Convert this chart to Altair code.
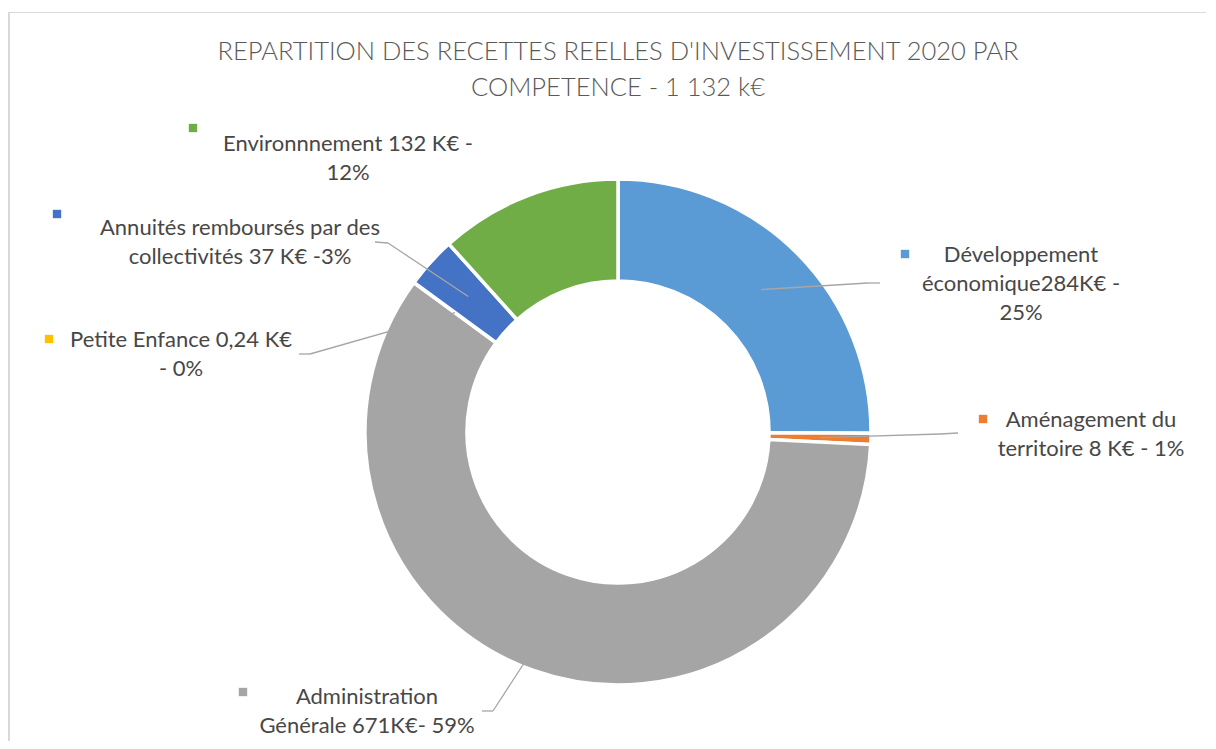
import math
import altair as alt
import pandas as pd

# ---- data ----
categories = ["Développement économique", "Aménagement du territoire", "Administration Générale",
              "Petite Enfance", "Annuités remboursés par des collectivités", "Environnement"]
values_keur = [284, 8, 671, 0.24, 37, 132]
colors = ["#5B9BD5", "#ED7D31", "#A5A5A5", "#FFC000", "#4472C4", "#70AD47"]
label_lines = [
    ["Développement", "économique284K€ -", "25%"],
    ["Aménagement du", "territoire 8 K€ - 1%"],
    ["Administration", "Générale 671K€- 59%"],
    ["Petite Enfance 0,24 K€", " -  0%"],
    ["Annuités remboursés par des", "collectivités 37 K€ -3%"],
    ["Environnnement 132 K€ -", "12%"],
]
title_lines = ["REPARTITION DES RECETTES REELLES D'INVESTISSEMENT 2020 PAR", "COMPETENCE - 1 132 k€"]

# ---- layout (page pixel positions of manually placed labels, as in the original) ----
OX, OY = 9, 12             # plot origin on the page
W, H = 1197, 729
CX, CY = 618 - OX, 432 - OY
R_IN, R_OUT = 151, 253
R_MID = (R_IN + R_OUT) / 2
label_centers = [(1021, 255), (1091, 420), (367, 697), (181, 340), (240, 228), (348, 144)]
line_gap = 29
square_pos = [(905, 254), (983, 419), (243, 692), (49, 339), (57, 214), (193, 128)]
leader_pts = [
    [(868, 283), (880, 283)],
    [(940, 434), (958, 433)],
    [(493, 711), (482, 711)],
    [(310, 354), (299, 354)],
    [(388, 243), (375, 242)],
    None,
]

total = sum(values_keur)
slices = pd.DataFrame({"cat": categories, "val": values_keur, "order": range(len(categories))})

# text rows
txt_rows = []
for i, lines in enumerate(label_lines):
    lx, ly = label_centers[i]
    for j, t in enumerate(lines):
        txt_rows.append({"x": lx - OX, "y": ly + j * line_gap - OY, "t": t})
txt = pd.DataFrame(txt_rows)

sq = pd.DataFrame({"x": [p[0] - OX for p in square_pos], "y": [p[1] - OY for p in square_pos],
                   "cat": categories})

# leader lines: start at slice middle (computed from data), then elbow and end
seg_rows = []
cum = 0
for i, v in enumerate(values_keur):
    mid = (cum + v / 2) / total * 2 * math.pi
    cum += v
    if leader_pts[i] is None:
        continue
    pts = [(CX + R_MID * math.sin(mid), CY - R_MID * math.cos(mid))] + \
          [(p[0] - OX, p[1] - OY) for p in leader_pts[i]]
    for k in range(len(pts) - 1):
        seg_rows.append({"x": pts[k][0], "y": pts[k][1], "x2": pts[k + 1][0], "y2": pts[k + 1][1]})
segs = pd.DataFrame(seg_rows)

xs = alt.Scale(domain=[0, W], range=[0, W])
ys = alt.Scale(domain=[0, H], range=[0, H])
color_scale = alt.Scale(domain=categories, range=colors)

# chart-area frame (top and left edges visible in the original)
frame_top = alt.Chart(slices).mark_rule(color="#D9D9D9", strokeWidth=1.2).encode(
    x=alt.value(0), x2=alt.value(W + 20), y=alt.value(0.5))
frame_left = alt.Chart(slices).mark_rule(color="#D9D9D9", strokeWidth=2).encode(
    x=alt.value(0), y=alt.value(0), y2=alt.value(H + 20))

arcs = alt.Chart(slices).mark_arc(innerRadius=R_IN, outerRadius=R_OUT, stroke="white",
                                  strokeWidth=3.5).encode(
    theta=alt.Theta("val:Q", stack=True),
    order=alt.Order("order:Q"),
    color=alt.Color("cat:N", scale=color_scale, legend=None),
    x=alt.value(CX), y=alt.value(CY),
)

leaders = alt.Chart(segs).mark_rule(color="#A6A6A6", strokeWidth=1.3).encode(
    x=alt.X("x:Q", scale=xs, axis=None), y=alt.Y("y:Q", scale=ys, axis=None),
    x2="x2:Q", y2="y2:Q",
)

squares = alt.Chart(sq).mark_square(size=70, opacity=1, filled=True).encode(
    x=alt.X("x:Q", scale=xs, axis=None), y=alt.Y("y:Q", scale=ys, axis=None),
    color=alt.Color("cat:N", scale=color_scale, legend=None),
)

texts = alt.Chart(txt).mark_text(font="Lato", fontSize=22, color="#474747", align="center",
                                 baseline="middle").encode(
    x=alt.X("x:Q", scale=xs, axis=None), y=alt.Y("y:Q", scale=ys, axis=None),
    text="t:N",
)

chart = alt.layer(frame_top, frame_left, arcs, leaders, squares, texts).properties(
    width=W, height=H,
    title=alt.TitleParams(text=title_lines, font="Lato", fontSize=25.5, fontWeight=300,
                          color="#595959", anchor="middle", baseline="middle",
                          lineHeight=36, offset=0, dy=102, dx=618 - (OX + W / 2)),
    autosize=alt.AutoSizeParams(type="none"),
    padding={"left": OX - 8, "top": OY - 8, "right": 0, "bottom": 0},
).configure_view(strokeWidth=0)

chart.save("out.html", embed_options={"renderer": "svg", "actions": False})
